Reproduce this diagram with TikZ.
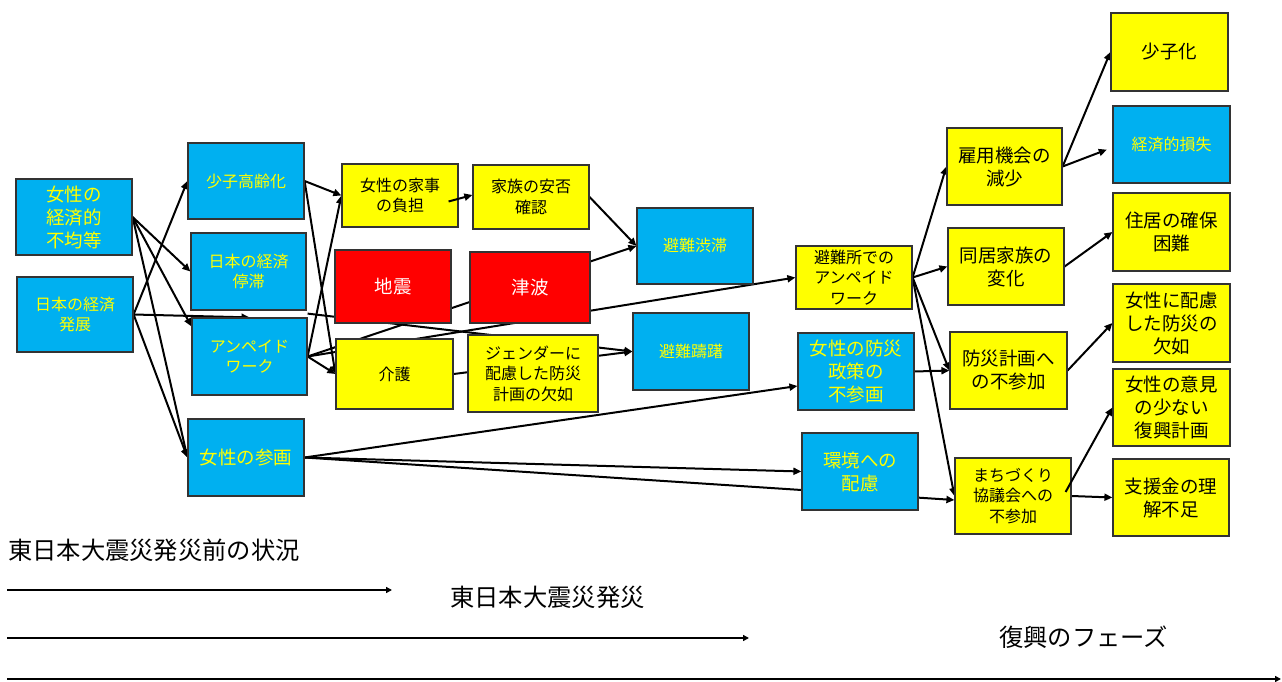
\documentclass[tikz,border=0pt]{standalone}
\usepackage{fontspec}
\setmainfont{Noto Sans CJK JP}
\usetikzlibrary{arrows.meta,calc}
\pgfdeclarelayer{bg}
\pgfsetlayers{bg,main}
\definecolor{cblue}{HTML}{00B0F0}
\definecolor{cyel}{HTML}{FFFF00}
\definecolor{cred}{HTML}{FF0000}
\tikzset{
  box/.style={draw=black!80, line width=1.2pt, inner sep=1pt, align=center},
  bluebox/.style={box, fill=cblue, text=cyel},
  yelbox/.style={box, fill=cyel, text=black},
  redbox/.style={box, fill=cred, text=white},
  smalltxt/.style={font=\fontsize{16}{20.5}\selectfont},
  bigtxt/.style={font=\fontsize{18.5}{23}\selectfont},
  wh/.style 2 args={minimum width=#1pt, minimum height=#2pt},
  link/.style={line width=2pt, -{Triangle[length=8pt,width=7pt]}},
  tline/.style={line width=2.6pt, -{Triangle[length=6pt,width=6pt]}},
  ttext/.style={anchor=west, inner sep=0pt, font=\fontsize{24.3}{28}\selectfont}
}
\begin{document}
\begin{tikzpicture}[x=1pt,y=-1pt]
\useasboundingbox (0,0) rectangle (1282,682);

% left column
\node[bluebox,bigtxt,wh={116}{76}] (ineq) at (74,217) {女性の\\経済的\\不均等};
\node[bluebox,smalltxt,wh={116}{75}] (devel) at (75,314.5) {日本の経済\\発展};
% second column
\node[bluebox,smalltxt,wh={116}{76}] (aging) at (246,181) {少子高齢化};
\node[bluebox,smalltxt,wh={115}{77}] (stag) at (248.5,271.5) {日本の経済\\停滞};
\node[bluebox,smalltxt,wh={115}{77}] (unpaid) at (249.5,356.5) {アンペイド\\ワーク};
\node[bluebox,bigtxt,wh={116}{77}] (part) at (246,457.5) {女性の参画};
% middle
\node[yelbox,smalltxt,wh={116}{63}] (chores) at (400,195.5) {女性の家事\\の負担};
\node[yelbox,smalltxt,wh={116}{64}] (family) at (531,197) {家族の安否\\確認};
\node[bluebox,smalltxt,wh={116}{76}] (jam) at (695,246) {避難渋滞};
\node[redbox,bigtxt,wh={116}{73}] (quake) at (393,286.5) {地震};
\node[redbox,bigtxt,wh={120}{71}] (tsunami) at (530,287.5) {津波};
\node[bluebox,smalltxt,wh={116}{77}] (hesit) at (691,351.5) {避難躊躇};
\node[yelbox,smalltxt,wh={117}{70}] (care) at (394.5,374) {介護};
\node[yelbox,smalltxt,wh={130}{77}] (gender) at (533,373.5) {ジェンダーに\\配慮した防災\\計画の欠如};
% fourth column
\node[yelbox,smalltxt,wh={116}{63}] (shelter) at (854,277.5) {避難所での\\アンペイド\\ワーク};
\node[bluebox,bigtxt,wh={116}{77}] (policy) at (856,371.5) {女性の防災\\政策の\\不参画};
\node[bluebox,bigtxt,wh={116}{77}] (env) at (860,471.5) {環境への\\配慮};
% fifth column
\node[yelbox,bigtxt,wh={115}{77}] (employ) at (1004.5,166.5) {雇用機会の\\減少};
\node[yelbox,bigtxt,wh={116}{77}] (cohab) at (1006,266.5) {同居家族の\\変化};
\node[yelbox,bigtxt,wh={117}{77}] (plan) at (1008.5,370.5) {防災計画へ\\の不参加};
\node[yelbox,smalltxt,wh={116}{76}] (machi) at (1013,496) {まちづくり\\協議会への\\不参加};
% right column
\node[yelbox,bigtxt,wh={117}{78}] (birth) at (1169.5,52) {少子化};
\node[bluebox,smalltxt,wh={117}{77}] (loss) at (1171.5,144.5) {経済的損失};
\node[yelbox,bigtxt,wh={117}{78}] (housing) at (1171.5,232) {住居の確保\\困難};
\node[yelbox,bigtxt,wh={117}{78}] (lack) at (1171.5,323) {女性に配慮\\した防災の\\欠如};
\node[yelbox,bigtxt,wh={117}{77}] (opinion) at (1171.5,407.5) {女性の意見\\の少ない\\復興計画};
\node[yelbox,bigtxt,wh={116}{77}] (support) at (1171,497.5) {支援金の理\\解不足};

\begin{pgfonlayer}{bg}
\fill[white] (0,0) rectangle (1282,682);
\draw[link] (ineq.east) -- (stag.west);
\draw[link] (ineq.east) -- ($(unpaid.north west)+(0,9)$);
\draw[link] (ineq.east) -- (part.west);
\draw[link] (devel.east) -- (aging.west);
\draw[link] (devel.east) -- (unpaid.north);
\draw[link] (devel.east) -- (part.west);
\draw[link] (aging.east) -- (chores.west);
\draw[link] (aging.east) -- (care.west);
\draw[link] (unpaid.east) -- (chores.west);
\draw[link] (unpaid.east) -- (care.west);
\draw[link] (unpaid.east) -- (jam.west);
\draw[link] (unpaid.east) -- (shelter.west);
\draw[link] ($(stag.south east)+(1,3)$) -- (hesit.west);
\draw[link] (care.east) -- (hesit.west);
\draw[link] (family.east) -- (jam.west);
\draw[link] (part.east) -- ($(policy.west)+(0,14.5)$);
\draw[link] (part.east) -- (env.west);
\draw[link] (part.east) -- ($(machi.west)+(0,4)$);
\draw[link] (shelter.east) -- (employ.west);
\draw[link] (shelter.east) -- (cohab.west);
\draw[link] (shelter.east) -- (plan.west);
\draw[link] (shelter.east) -- (machi.west);
\draw[link] (policy.east) -- (plan.west);
\draw[link] (employ.east) -- (birth.west);
\draw[link, shorten >=6pt] (employ.east) -- ($(loss.west)+(0,3)$);
\draw[link] (cohab.east) -- (housing.west);
\draw[link] (plan.east) -- (lack.west);
\draw[link] (machi.east) -- (support.west);
\end{pgfonlayer}
\draw[link] ($(chores.east)+(-10,6)$) -- ($(family.west)+(0,-2)$);
\draw[link] ($(machi.east)+(-6,-4)$) -- (opinion.west);

% timeline
\coordinate (t1s) at (7,590); \coordinate (t1e) at (392,590);
\coordinate (t2s) at (7,638); \coordinate (t2e) at (749,638);
\coordinate (t3s) at (7,679); \coordinate (t3e) at (1281,679);
\draw[tline] (t1s) -- (t1e);
\draw[tline] (t2s) -- (t2e);
\draw[tline] (t3s) -- (t3e);
\node[ttext] (p1) at (8,550) {東日本大震災発災前の状況};
\node[ttext] (p2) at (450,597) {東日本大震災発災};
\node[ttext] (p3) at (999,637) {復興のフェーズ};
\end{tikzpicture}
\end{document}
